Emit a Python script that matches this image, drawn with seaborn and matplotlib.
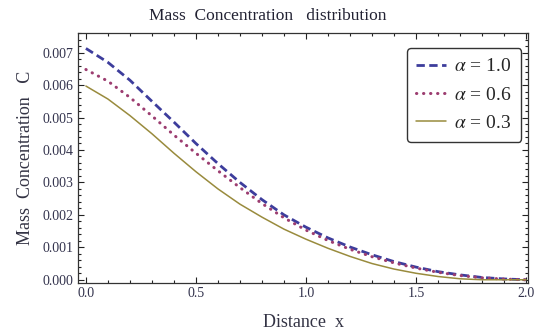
import numpy as np
import pandas as pd
import matplotlib
matplotlib.use("Agg")
import matplotlib.pyplot as plt
import seaborn as sns
from matplotlib.ticker import MultipleLocator, FormatStrFormatter

x = [0.0, 0.1, 0.2, 0.3, 0.4, 0.5, 0.6, 0.7, 0.8, 0.9, 1.0,
     1.1, 1.2, 1.3, 1.4, 1.5, 1.6, 1.7, 1.8, 1.9, 2.0]
c_alpha_10 = [7.13, 6.70, 6.15, 5.50, 4.86, 4.20, 3.58, 3.00, 2.47, 2.00, 1.62,
              1.29, 1.01, 0.77, 0.56, 0.39, 0.25, 0.15, 0.07, 0.025, 0.0]
c_alpha_06 = [6.48, 6.12, 5.62, 5.05, 4.46, 3.90, 3.36, 2.84, 2.35, 1.91, 1.53,
              1.21, 0.94, 0.71, 0.52, 0.36, 0.23, 0.13, 0.06, 0.02, 0.0]
c_alpha_03 = [5.97, 5.57, 5.06, 4.50, 3.90, 3.33, 2.80, 2.33, 1.93, 1.56, 1.25,
              0.97, 0.72, 0.50, 0.33, 0.20, 0.10, 0.03, 0.0, 0.0, 0.0]
labels = [r"$\alpha$ = 1.0", r"$\alpha$ = 0.6", r"$\alpha$ = 0.3"]

sns.set_style("ticks")
plt.rcParams["font.family"] = ["Liberation Serif", "DejaVu Serif"]
plt.rcParams["mathtext.fontset"] = "stix"

fig = plt.figure(figsize=(5.36, 3.34), dpi=100)
ax = fig.add_axes([0.1455, 0.1527, 0.840, 0.748])

series = [c_alpha_10, c_alpha_06, c_alpha_03]
colors = ["#3d3d9c", "#9c3d70", "#998b3d"]
styles = [dict(linestyle=(0, (3, 1.6)), linewidth=2.0),
          dict(linestyle=(0, (0.1, 2.2)), linewidth=2.2, dash_capstyle="round"),
          dict(linestyle="-", linewidth=1.1)]
for vals, lab, col, st in zip(series, labels, colors, styles):
    df = pd.DataFrame({"x": x, "C": np.array(vals) * 1e-3})
    sns.lineplot(data=df, x="x", y="C", ax=ax, color=col, label=lab, **st)

ax.set_xlim(-0.036, 2.01)
ax.set_ylim(-0.0001, 0.0076)
ax.xaxis.set_major_locator(MultipleLocator(0.5))
ax.xaxis.set_minor_locator(MultipleLocator(0.1))
ax.yaxis.set_major_locator(MultipleLocator(0.001))
ax.yaxis.set_minor_locator(MultipleLocator(0.0002))
ax.xaxis.set_major_formatter(FormatStrFormatter("%.1f"))
ax.yaxis.set_major_formatter(FormatStrFormatter("%.3f"))
ax.tick_params(which="both", direction="in", top=True, right=True,
               labelsize=10, labelcolor="#33334d", color="#222222", width=0.8)
ax.tick_params(which="major", length=4, pad=3)
ax.tick_params(which="minor", length=2)
for s in ax.spines.values():
    s.set_color("#333333")
    s.set_linewidth(0.9)

ax.set_xlabel("Distance  x", fontsize=13, color="#333344", labelpad=10)
ax.set_ylabel("Mass  Concentration   C", fontsize=13, color="#333344", labelpad=6)
fig.text(0.5, 0.952, "Mass  Concentration   distribution", fontsize=12.5,
         color="#222233", ha="center", va="center")

leg = ax.legend(loc="upper right", bbox_to_anchor=(0.985, 0.94), fontsize=14,
                frameon=True, fancybox=True, handlelength=1.5, labelspacing=0.55,
                borderpad=0.5, handletextpad=0.45, borderaxespad=0.0)
leg.get_frame().set_edgecolor("#333333")
leg.get_frame().set_linewidth(1.0)
leg.get_frame().set_alpha(1.0)

fig.savefig("out.png", dpi=100)
